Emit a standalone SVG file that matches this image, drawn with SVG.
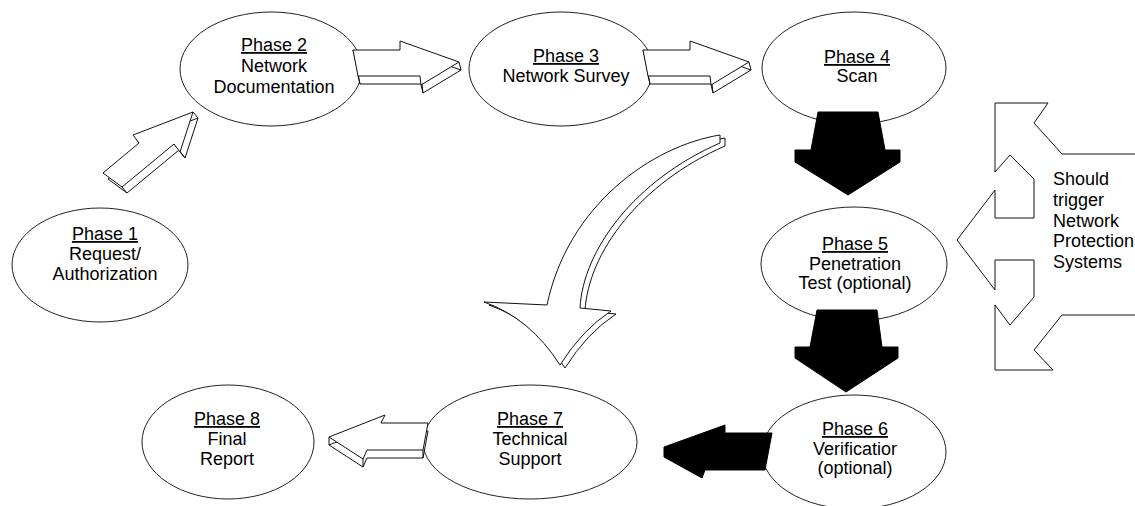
<svg xmlns="http://www.w3.org/2000/svg" xmlns:xlink="http://www.w3.org/1999/xlink" width="1135" height="506" viewBox="0 0 1135 506">
<style>
.node ellipse{fill:#fff;stroke:#222;stroke-width:1}
.t{font-family:"Liberation Sans",Arial,sans-serif;font-size:18px;fill:#000;text-anchor:middle}
.u{text-decoration:underline}
.hol{fill:#fff;stroke:#111;stroke-width:1;stroke-linejoin:miter}
.con{fill:none;stroke:#111;stroke-width:1}
.blk{fill:#000;stroke:#000;stroke-width:1}
.side{font-family:"Liberation Sans",Arial,sans-serif;font-size:18px;fill:#000}
</style>
<defs>
<polygon id="a23" points="353,50 400,50 400,41 459,62 421,85 420,76 358,76"/>
<polygon id="a12" points="103,173 139,143 133,135 193,112 180,152 174,144 122,187"/>
<polygon id="a78" points="329,437 385,415 381,423 428,423 423,450 367,450 363,459"/>
<path id="acurve" d="M720,135 C652,146 568,205 547,305 L484,302 Q530,318 560,365 Q582,330 611,311 L580,308 C583,250 635,180 720,143 Z"/>
</defs>
<rect width="1135" height="506" fill="#fff"/>

<g id="phase1" class="node">
<ellipse cx="100" cy="265" rx="88" ry="57"/>
<text class="t" x="105" y="240"><tspan class="u">Phase 1</tspan></text>
<text class="t" x="105" y="260">Request/</text>
<text class="t" x="105" y="280">Authorization</text>
</g>
<g id="phase2" class="node">
<ellipse cx="271" cy="69" rx="91" ry="57"/>
<text class="t" x="274" y="51"><tspan class="u">Phase 2</tspan></text>
<text class="t" x="274" y="72">Network</text>
<text class="t" x="274" y="93">Documentation</text>
</g>
<g id="phase3" class="node">
<ellipse cx="561" cy="69" rx="92" ry="57"/>
<text class="t" x="566" y="62"><tspan class="u">Phase 3</tspan></text>
<text class="t" x="566" y="82">Network Survey</text>
</g>
<g id="phase4" class="node">
<ellipse cx="854" cy="68" rx="92" ry="56"/>
<text class="t" x="857" y="63"><tspan class="u">Phase 4</tspan></text>
<text class="t" x="857" y="82">Scan</text>
</g>
<g id="phase5" class="node">
<ellipse cx="854" cy="264" rx="93" ry="57"/>
<text class="t" x="855" y="250"><tspan class="u">Phase 5</tspan></text>
<text class="t" x="855" y="269.5">Penetration</text>
<text class="t" x="855" y="289">Test (optional)</text>
</g>
<g id="phase6" class="node">
<ellipse cx="854" cy="452" rx="92" ry="57"/>
<text class="t" x="855" y="435"><tspan class="u">Phase 6</tspan></text>
<text class="t" x="855" y="455">Verificatior</text>
<text class="t" x="855" y="474">(optional)</text>
</g>
<g id="phase7" class="node">
<ellipse cx="530" cy="442" rx="107" ry="57"/>
<text class="t" x="530" y="425"><tspan class="u">Phase 7</tspan></text>
<text class="t" x="530" y="445">Technical</text>
<text class="t" x="530" y="465">Support</text>
</g>
<g id="phase8" class="node">
<ellipse cx="228" cy="442" rx="86" ry="57"/>
<text class="t" x="227" y="425"><tspan class="u">Phase 8</tspan></text>
<text class="t" x="227" y="445">Final</text>
<text class="t" x="227" y="465">Report</text>
</g>

<g id="connectors">
<!-- 1 to 2 -->
<use xlink:href="#a12" href="#a12" class="hol" transform="translate(5,6)"/>
<path class="con" d="M193,112 l5,6 M180,152 l5,6 M122,187 l5,6 M174,144 l5,6"/>
<use xlink:href="#a12" href="#a12" class="hol"/>
<!-- 2 to 3 -->
<use xlink:href="#a23" href="#a23" class="hol" transform="translate(2,8)"/>
<path class="con" d="M459,62 l2,8 M421,85 l2,8 M358,76 l2,8 M353,50 l2,8"/>
<use xlink:href="#a23" href="#a23" class="hol"/>
<!-- 3 to 4 -->
<use xlink:href="#a23" href="#a23" class="hol" transform="translate(292,8)"/>
<path class="con" d="M749,62 l2,8 M711,85 l2,8 M648,76 l2,8 M643,50 l2,8"/>
<use xlink:href="#a23" href="#a23" class="hol" transform="translate(290,0)"/>
<!-- 4 to 5 -->
<polygon class="blk" points="818,112 878,112 885,150 900,150 900,162 848,195 795,162 795,150 811,150"/>
<!-- 5 to 6 -->
<polygon class="blk" points="817,310 877,310 882,347 898,347 898,358 846,392 795,358 795,347 810,347"/>
<!-- 6 to 7 -->
<polygon class="blk" points="664,447 725,425 725,433 772,433 765,470 705,470 702,478 664,457"/>
<!-- 7 to 8 -->
<use xlink:href="#a78" href="#a78" class="hol" transform="translate(0,8)"/>
<path class="con" d="M329,437 l0,8 M363,459 l0,8 M423,450 l0,8"/>
<use xlink:href="#a78" href="#a78" class="hol"/>
<!-- curved 3 to 7 -->
<use xlink:href="#acurve" href="#acurve" class="hol" transform="translate(5,3)"/>
<use xlink:href="#acurve" href="#acurve" class="hol"/>
</g>

<g id="protection">
<path class="con" d="M1135,154 L1062,154 L1034,123 L1048,103 L995,103 L995,172 L1010,155 L1034,179 L1034,218 L995,218 L995,190 L957,240 L995,290 L995,260 L1034,260 L1034,297 L1010,325 L995,305 L995,370 L1053,370 L1034,350 L1062,315 L1135,315"/>
<text class="side" x="1053" y="185">Should</text>
<text class="side" x="1053" y="205.5">trigger</text>
<text class="side" x="1053" y="226.5">Network</text>
<text class="side" x="1053" y="247">Protection</text>
<text class="side" x="1053" y="267.5">Systems</text>
</g>
</svg>
